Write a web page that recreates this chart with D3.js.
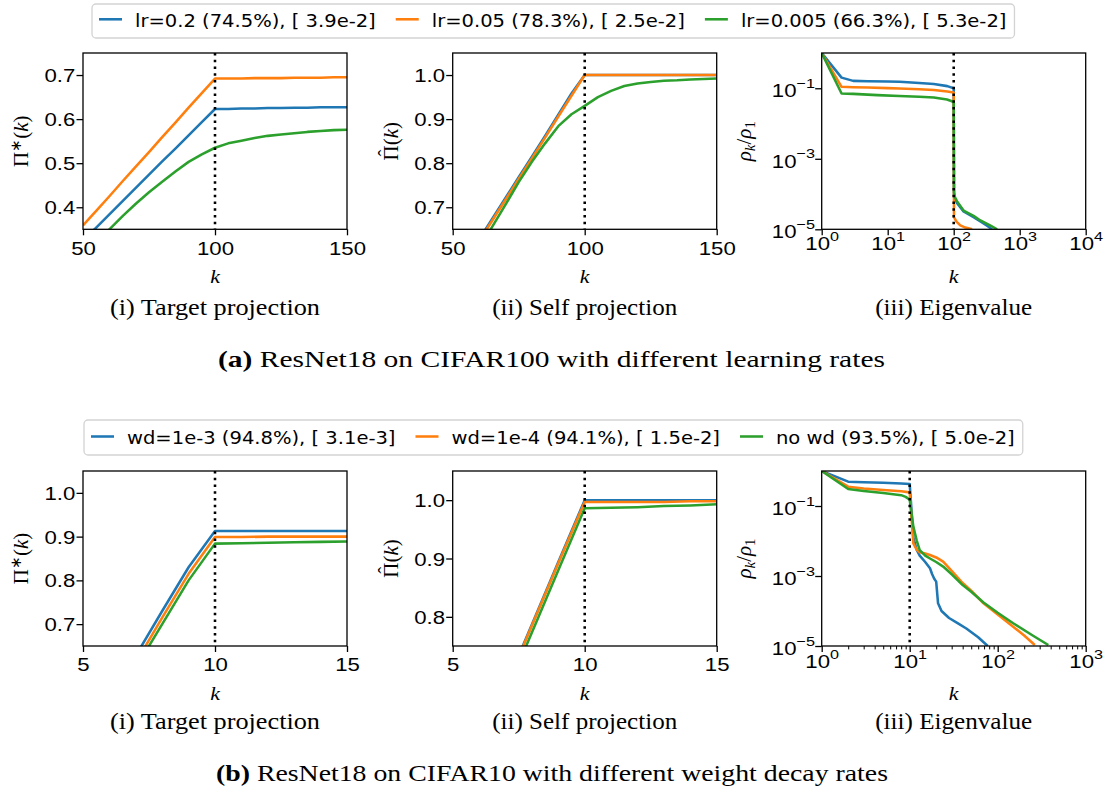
<!DOCTYPE html>
<html>
<head>
<meta charset="utf-8">
<script src="https://cdn.jsdelivr.net/npm/d3@7"></script>
<style>
  body { margin: 0; background: #fff; }
</style>
</head>
<body>
<div id="chart"></div>
<script>
// ---------- data ----------
const colors = ['#1f77b4', '#ff7f0e', '#2ca02c'];

const legendA = ['lr=0.2 (74.5%), [ 3.9e-2]', 'lr=0.05 (78.3%), [ 2.5e-2]', 'lr=0.005 (66.3%), [ 5.3e-2]'];
const legendB = ['wd=1e-3 (94.8%), [ 3.1e-3]', 'wd=1e-4 (94.1%), [ 1.5e-2]', 'no wd (93.5%), [ 5.0e-2]'];

// (a) ResNet18 / CIFAR100
const aK = [50, 55, 60, 65, 70, 75, 80, 85, 90, 95, 100, 105, 110, 115, 120, 125, 130, 135, 140, 145, 150];
const aTgtLr02   = [.324, .354, .384, .414, .444, .474, .504, .533, .563, .593, .623, .623, .624, .624, .625, .625, .626, .626, .627, .627, .627];
const aTgtLr005  = [.359, .392, .425, .459, .492, .525, .559, .592, .626, .659, .692, .692, .692, .693, .693, .693, .694, .694, .694, .695, .695];
const aTgtLr0005 = [.29, .32, .35, .38, .408, .434, .458, .481, .503, .52, .535, .545, .551, .557, .562, .565, .568, .571, .573, .575, .576];
const aSelfLr02   = [.532, .579, .627, .674, .721, .768, .815, .862, .91, .958, 1, 1, 1, 1, 1, 1, 1, 1, 1, 1, 1];
const aSelfLr005  = [.528, .575, .623, .670, .717, .764, .811, .858, .906, .953, 1, 1, 1, 1, 1, 1, 1, 1, 1, 1, 1];
const aSelfLr0005 = [.51, .56, .607, .656, .706, .757, .803, .845, .884, .911, .93, .95, .964, .975, .981, .984, .987, .988, .99, .991, .992];

const aEigKLr02 = [1, 2, 3, 5, 10, 15, 20, 30, 50, 80, 100, 101, 105, 112, 141, 200, 254, 320, 382];
const aEigLr02  = [1, 0.20, 0.162, 0.158, 0.155, 0.153, 0.148, 0.141, 0.132, 0.115, 0.10, 8.9e-5, 7.1e-5, 5.6e-5, 3.2e-5, 2.2e-5, 1.66e-5, 1.26e-5, 1.0e-5];
const aEigKLr005 = [1, 2, 3, 5, 10, 15, 30, 50, 80, 94, 100, 101, 110, 126, 150, 190];
const aEigLr005  = [1, 0.110, 0.107, 0.105, 0.101, 0.0986, 0.0933, 0.0891, 0.0813, 0.0776, 0.0759, 2.2e-5, 1.66e-5, 1.29e-5, 1.12e-5, 1.0e-5];
const aEigKLr0005 = [1, 2, 3, 7, 15, 30, 50, 79, 94, 100, 101, 105, 112, 141, 200, 254, 350, 455];
const aEigLr0005  = [1, 0.0713, 0.0692, 0.0638, 0.0603, 0.0575, 0.055, 0.0479, 0.0427, 0.0389, 1.12e-4, 7.9e-5, 6.3e-5, 3.4e-5, 2.4e-5, 1.78e-5, 1.32e-5, 1.0e-5];

// (b) ResNet18 / CIFAR10
const bK = [6, 7, 8, 9, 10, 11, 12, 13, 14, 15];
const bTgtWd3  = [.527, .628, .73, .83, .913, .913, .913, .913, .913, .913];
const bTgtWd4  = [.51, .612, .715, .815, .899, .899, .9, .9, .9, .9];
const bTgtNoWd = [.50, .60, .70, .80, .884, .885, .886, .887, .888, .889];
const bSelfWd3  = [.573, .68, .787, .894, 1, 1, 1, 1, 1, 1];
const bSelfWd4  = [.571, .678, .785, .892, .997, .997, .997, .997, .998, .998];
const bSelfNoWd = [.56, .667, .773, .88, .986, .987, .988, .99, .991, .993];

const bEigKWd3 = [1, 2, 3, 5, 8, 10, 11, 12, 13, 15, 17, 18, 19, 20, 21, 23, 28, 35, 44, 60, 77];
const bEigWd3  = [1, 0.495, 0.479, 0.462, 0.442, 0.427, 0.0126, 0.00562, 0.0038, 0.00251, 0.00166, 0.00112, 8.3e-4, 6.9e-4, 1.66e-4, 1.0e-4, 6.3e-5, 4.5e-5, 3.16e-5, 1.78e-5, 1.0e-5];
const bEigKWd4 = [1, 2, 3, 5, 8, 10, 11, 12, 13, 15, 17, 20, 24, 30, 40, 50, 69, 100, 150, 200, 264];
const bEigWd4  = [1, 0.356, 0.316, 0.288, 0.263, 0.245, 0.0085, 0.00562, 0.00479, 0.00437, 0.00398, 0.00339, 0.00257, 0.00141, 6.3e-4, 3.8e-4, 1.66e-4, 7.9e-5, 3.55e-5, 2.0e-5, 1.07e-5];
const bEigKNoWd = [1, 2, 3, 5, 8, 9, 10, 11, 12, 13, 15, 17, 20, 24, 30, 40, 50, 69, 100, 150, 250, 376];
const bEigNoWd  = [1, 0.306, 0.269, 0.234, 0.204, 0.182, 0.151, 0.0257, 0.0105, 0.0055, 0.0038, 0.00316, 0.00251, 0.00186, 0.00112, 5.5e-4, 3.55e-4, 1.74e-4, 8.9e-5, 4.47e-5, 2.0e-5, 1.07e-5];

// tick values
const aProjTicksX = [50, 100, 150];
const aTgtTicksY = [0.4, 0.5, 0.6, 0.7];
const aSelfTicksY = [0.7, 0.8, 0.9, 1.0];
const aEigTicksX = [1, 10, 100, 1000, 10000];
const bProjTicksX = [5, 10, 15];
const bTgtTicksY = [0.7, 0.8, 0.9, 1.0];
const bSelfTicksY = [0.8, 0.9, 1.0];
const bEigTicksX = [1, 10, 100, 1000];
const eigTicksY = [1e-1, 1e-3, 1e-5];

// ---------- layout ----------
const W = 1107, H = 793;
const SX = 1.15;            // legend text stretch
const TX = 1.2;             // tick text stretch
const TFS = 18.5;           // tick font size
const cols = [83, 452.7, 821.7];
const axW = 264;
const rows = {
  a: { top: 53, bottom: 229.3, kBase: 283, capBase: 315 },
  b: { top: 471, bottom: 646, kBase: 700, capBase: 729 }
};
const serif = '"Liberation Serif", "Times New Roman", serif';

const svg = d3.select('#chart').append('svg')
  .attr('width', W).attr('height', H)
  .style('font-family', 'DejaVu Sans');

function logLabel(sel) {
  sel.each(function (d) {
    const e = Math.round(Math.log10(d));
    const t = d3.select(this).text(null);
    t.append('tspan').text('10');
    t.append('tspan').attr('dy', -9.5).attr('font-size', 13.5).text(e < 0 ? '\u2212' + (-e) : e);
  });
}

function drawPanel(p) {
  const r = rows[p.row], x0 = cols[p.col], h = r.bottom - r.top;
  const g = svg.append('g').attr('transform', `translate(${x0},${r.top})`);

  const x = (p.xLog ? d3.scaleLog() : d3.scaleLinear()).domain(p.xDomain).range([0, axW]);
  const y = (p.yLog ? d3.scaleLog() : d3.scaleLinear()).domain(p.yDomain).range([h, 0]);

  const clipId = `clip-${p.row}${p.col}`;
  g.append('clipPath').attr('id', clipId)
    .append('rect').attr('width', axW).attr('height', h);

  const line = d3.line().x(d => x(d[0])).y(d => y(d[1]));
  const plot = g.append('g').attr('clip-path', `url(#${clipId})`);
  p.series.forEach((s, i) => {
    plot.append('path')
      .datum(d3.zip(s[0], s[1]))
      .attr('d', line)
      .attr('fill', 'none')
      .attr('stroke', colors[i])
      .attr('stroke-width', 2.55)
      .attr('stroke-linejoin', 'round');
  });

  // dotted marker
  plot.append('line')
    .attr('x1', x(p.vline)).attr('x2', x(p.vline))
    .attr('y1', 0).attr('y2', h)
    .attr('stroke', '#000')
    .attr('stroke-width', 2.55)
    .attr('stroke-dasharray', '2.55,4.2');

  // x axis
  const xa = g.append('g').attr('transform', `translate(0,${h})`)
    .call(d3.axisBottom(x).tickValues(p.xTicks).tickSize(6).tickSizeOuter(0)
      .tickFormat(p.xLog ? () => '' : d3.format('d')));
  xa.select('.domain').remove();
  xa.selectAll('.tick line').attr('stroke', '#000').attr('stroke-width', 1.3);
  const xt = xa.selectAll('.tick text')
    .attr('fill', '#000').attr('font-size', TFS)
    .attr('dy', null)
    .attr('y', p.xLog ? (p.row === 'a' ? 21 : 22.5) : (p.row === 'a' ? 26 : 25.3))
    .attr('transform', `scale(${TX},1)`);
  if (p.xLog) xt.call(logLabel);

  if (p.xMinor) {
    const minors = [];
    for (let e = 0; e < 3; e++) for (let m = 2; m < 10; m++) minors.push(m * Math.pow(10, e));
    const xm = g.append('g').attr('transform', `translate(0,${h})`)
      .call(d3.axisBottom(x).tickValues(minors).tickSize(3.4).tickSizeOuter(0).tickFormat(''));
    xm.select('.domain').remove();
    xm.selectAll('.tick line').attr('stroke', '#000').attr('stroke-width', 1);
  }

  // y axis
  const ya = g.append('g')
    .call(d3.axisLeft(y).tickValues(p.yTicks).tickSize(6.5).tickSizeOuter(0)
      .tickFormat(p.yLog ? () => '' : d3.format('.1f')));
  ya.select('.domain').remove();
  ya.selectAll('.tick line').attr('stroke', '#000').attr('stroke-width', 1.3);
  const yt = ya.selectAll('.tick text')
    .attr('fill', '#000').attr('font-size', TFS)
    .attr('x', p.yLog ? -5.6 : -6.4)
    .attr('dy', p.yLog ? 8.5 : 6.5)
    .attr('transform', `scale(${TX},1)`);
  if (p.yLog) yt.call(logLabel);

  // frame
  g.append('rect')
    .attr('width', axW).attr('height', h)
    .attr('fill', 'none').attr('stroke', '#000').attr('stroke-width', 1.3);

  // y label
  const yl = g.append('text')
    .attr('transform', `translate(${p.ylabX},${h / 2}) rotate(-90)`)
    .attr('text-anchor', 'middle')
    .attr('font-family', serif)
    .attr('font-size', 21);
  p.ylab(yl);

  // x label
  svg.append('text')
    .attr('transform', `translate(${x0 + axW / 2},${r.kBase}) scale(${SX},1)`)
    .attr('text-anchor', 'middle')
    .attr('font-family', serif)
    .attr('font-style', 'italic')
    .attr('font-size', 19)
    .text('k');

  // sub caption
  svg.append('text')
    .attr('x', x0 + axW / 2).attr('y', r.capBase)
    .attr('text-anchor', 'middle')
    .attr('font-family', serif)
    .attr('font-size', 23)
    .attr('textLength', p.capW)
    .attr('lengthAdjust', 'spacingAndGlyphs')
    .text(p.caption);
}

const labTarget = t => {
  t.append('tspan').text('Π');
  t.append('tspan').attr('dy', -7).attr('font-size', 15).text('∗');
  t.append('tspan').attr('dy', 7).text('(');
  t.append('tspan').attr('font-style', 'italic').text('k');
  t.append('tspan').text(')');
};
const labSelf = t => {
  t.append('tspan').text('Π');
  t.append('tspan').attr('dx', -11.2).attr('dy', -5).text('\u02C6');
  t.append('tspan').attr('dx', 4.2).attr('dy', 5).text('(');
  t.append('tspan').attr('font-style', 'italic').text('k');
  t.append('tspan').text(')');
};
const labEig = t => {
  t.append('tspan').attr('font-style', 'italic').text('ρ');
  t.append('tspan').attr('dy', 4).attr('font-size', 15).attr('font-style', 'italic').text('k');
  t.append('tspan').attr('dy', -4).text('/');
  t.append('tspan').attr('font-style', 'italic').text('ρ');
  t.append('tspan').attr('dy', 4).attr('font-size', 15).text('1');
};

// ---------- panels ----------
drawPanel({
  row: 'a', col: 0, xDomain: [50, 150], yDomain: [0.35, 0.75],
  xTicks: aProjTicksX, yTicks: aTgtTicksY, vline: 100,
  series: [[aK, aTgtLr02], [aK, aTgtLr005], [aK, aTgtLr0005]],
  ylab: labTarget, ylabX: -55, caption: '(i) Target projection', capW: 210
});
drawPanel({
  row: 'a', col: 1, xDomain: [50, 150], yDomain: [0.65, 1.05],
  xTicks: aProjTicksX, yTicks: aSelfTicksY, vline: 100,
  series: [[aK, aSelfLr02], [aK, aSelfLr005], [aK, aSelfLr0005]],
  ylab: labSelf, ylabX: -55, caption: '(ii) Self projection', capW: 185
});
drawPanel({
  row: 'a', col: 2, xLog: true, yLog: true, xDomain: [1, 1e4], yDomain: [1e-5, 1],
  xTicks: aEigTicksX, yTicks: eigTicksY, vline: 100,
  series: [[aEigKLr02, aEigLr02], [aEigKLr005, aEigLr005], [aEigKLr0005, aEigLr0005]],
  ylab: labEig, ylabX: -71, caption: '(iii) Eigenvalue', capW: 157
});
drawPanel({
  row: 'b', col: 0, xDomain: [5, 15], yDomain: [0.65, 1.05],
  xTicks: bProjTicksX, yTicks: bTgtTicksY, vline: 10,
  series: [[bK, bTgtWd3], [bK, bTgtWd4], [bK, bTgtNoWd]],
  ylab: labTarget, ylabX: -55, caption: '(i) Target projection', capW: 210
});
drawPanel({
  row: 'b', col: 1, xDomain: [5, 15], yDomain: [0.75, 1.05],
  xTicks: bProjTicksX, yTicks: bSelfTicksY, vline: 10,
  series: [[bK, bSelfWd3], [bK, bSelfWd4], [bK, bSelfNoWd]],
  ylab: labSelf, ylabX: -55, caption: '(ii) Self projection', capW: 185
});
drawPanel({
  row: 'b', col: 2, xLog: true, yLog: true, xMinor: true, xDomain: [1, 1e3], yDomain: [1e-5, 1],
  xTicks: bEigTicksX, yTicks: eigTicksY, vline: 10,
  series: [[bEigKWd3, bEigWd3], [bEigKWd4, bEigWd4], [bEigKNoWd, bEigNoWd]],
  ylab: labEig, ylabX: -71, caption: '(iii) Eigenvalue', capW: 157
});

// ---------- legends ----------
function drawLegend(labels, left, top, bottom, lineY, base) {
  const g = svg.append('g');
  const box = g.append('rect');
  let cx = left + 7;
  let end = cx;
  labels.forEach((lab, i) => {
    g.append('line')
      .attr('x1', cx).attr('x2', cx + 23)
      .attr('y1', lineY).attr('y2', lineY)
      .attr('stroke', colors[i]).attr('stroke-width', 2.55);
    const t = g.append('text')
      .attr('transform', `translate(${cx + 36},${base}) scale(${SX},1)`)
      .attr('font-size', 17)
      .attr('fill', '#000')
      .text(lab);
    const w = t.node().getComputedTextLength() * SX;
    end = cx + 36 + w;
    cx = end + 20;
  });
  box.attr('x', left).attr('y', top)
    .attr('width', end + 8 - left).attr('height', bottom - top)
    .attr('rx', 4)
    .attr('fill', '#fff')
    .attr('stroke', '#d3d3d3')
    .attr('stroke-width', 1.3);
}
drawLegend(legendA, 92, 4, 38, 19.3, 26.5);
drawLegend(legendB, 84, 420, 455, 436.5, 443.7);

// ---------- main captions ----------
function caption(label, rest, x, base, w) {
  const t = svg.append('text')
    .attr('x', x).attr('y', base)
    .attr('font-family', serif)
    .attr('font-size', 23)
    .attr('textLength', w)
    .attr('lengthAdjust', 'spacingAndGlyphs');
  t.append('tspan').attr('font-weight', 'bold').text(label);
  t.append('tspan').text(' ' + rest);
}
caption('(a)', 'ResNet18 on CIFAR100 with different learning rates', 218, 367, 667);
caption('(b)', 'ResNet18 on CIFAR10 with different weight decay rates', 216, 781, 672);
</script>
</body>
</html>
